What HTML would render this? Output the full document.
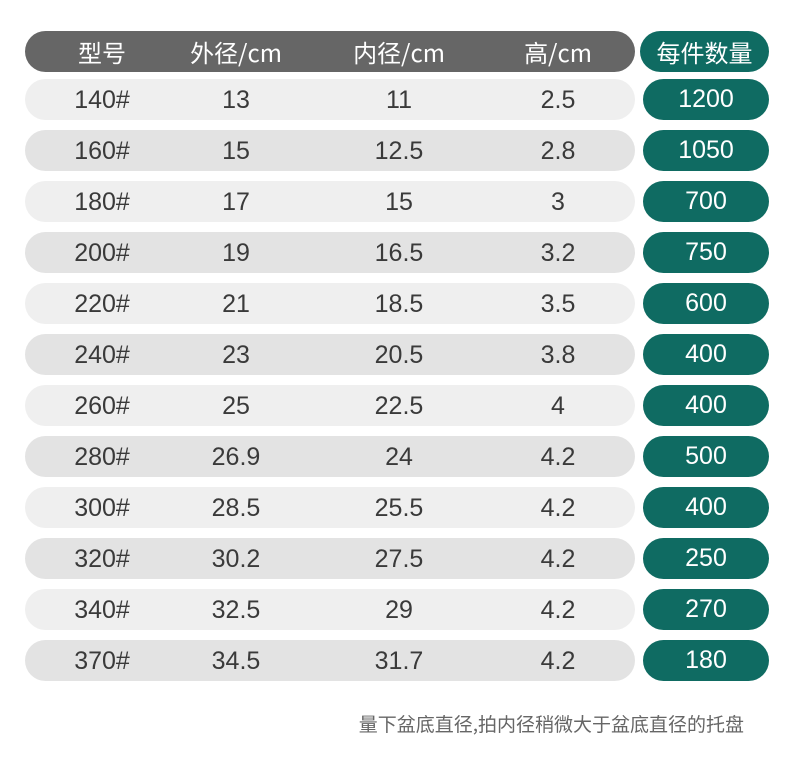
<!DOCTYPE html>
<html><head><meta charset="utf-8"><style>
body{margin:0;width:790px;height:773px;background:#fff;position:relative;overflow:hidden;font-family:"Liberation Sans","Noto Sans CJK SC",sans-serif;}
.bar{position:absolute;left:25px;width:610px;height:41px;border-radius:21px;}
.pill{position:absolute;left:643px;width:126px;height:41px;border-radius:21px;background:#0f6b62;color:#fff;text-align:center;line-height:41px;font-size:25px;}
.c{position:absolute;width:120px;margin-left:-60px;text-align:center;line-height:42px;font-size:25px;color:#3a3a3a;}
.h{color:#fff;font-family:"Noto Sans CJK SC",sans-serif;font-size:24px;}
</style></head><body>
<div class="bar" style="top:31px;background:#666;"></div>
<div class="pill" style="top:31px;left:640px;width:129px;font-family:'Noto Sans CJK SC',sans-serif;font-size:24px;">每件数量</div>
<div class="c h" style="left:102px;top:31px">型号</div>
<div class="c h" style="left:236px;top:31px">外径/cm</div>
<div class="c h" style="left:399px;top:31px">内径/cm</div>
<div class="c h" style="left:558px;top:31px">高/cm</div>
<div id="rows"></div>
<div style="position:absolute;right:46px;top:710px;font-size:19px;color:#666;font-family:'Noto Sans CJK SC',sans-serif;">量下盆底直径,拍内径稍微大于盆底直径的托盘</div>
<script>
var d=[["140#","13","11","2.5","1200"],["160#","15","12.5","2.8","1050"],["180#","17","15","3","700"],["200#","19","16.5","3.2","750"],["220#","21","18.5","3.5","600"],["240#","23","20.5","3.8","400"],["260#","25","22.5","4","400"],["280#","26.9","24","4.2","500"],["300#","28.5","25.5","4.2","400"],["320#","30.2","27.5","4.2","250"],["340#","32.5","29","4.2","270"],["370#","34.5","31.7","4.2","180"]];
var xs=[102,236,399,558],h="";
d.forEach(function(r,i){var t=79+i*51;
h+='<div class="bar" style="top:'+t+'px;background:'+(i%2?'#e3e3e3':'#efefef')+'"></div>';
for(var j=0;j<4;j++)h+='<div class="c" style="left:'+xs[j]+'px;top:'+t+'px">'+r[j]+'</div>';
h+='<div class="pill" style="top:'+t+'px">'+r[4]+'</div>';});
document.getElementById("rows").innerHTML=h;
</script>
</body></html>
